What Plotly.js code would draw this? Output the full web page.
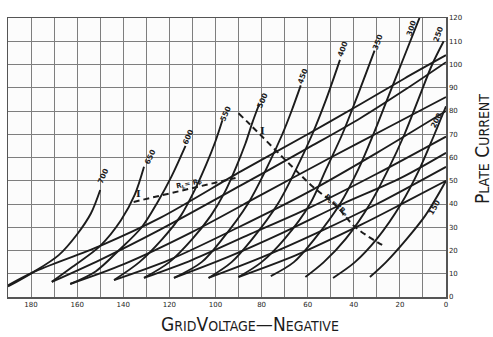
<!DOCTYPE html>
<html>
<head>
<meta charset="utf-8">
<script src="https://cdn.plot.ly/plotly-3.0.1.min.js"></script>
<style>
html,body{margin:0;padding:0;background:#fff;}
#chart{width:493px;height:337px;}
</style>
</head>
<body>
<div id="chart"></div>
<script>
// ---- Static characteristics (grid volts negative, plate current mA), one per plate voltage ----
const plateVolts = ['700','650','600','550','500','450','400','350','300','250','200','150'];
const eg700 = [190, 179, 168, 160, 154, 150];
const ip700 = [4.5, 10.7, 18, 27, 36, 46];
const eg650 = [171, 162, 150, 141, 135, 131];
const ip650 = [6.5, 13, 22, 33, 44, 56];
const eg600 = [163, 152, 142, 132, 125, 119, 113];
const ip600 = [5.6, 11, 20, 30, 41, 52, 65];
const eg550 = [144, 133, 123, 115, 109, 104, 100, 97];
const ip550 = [7.3, 15, 25, 35, 46, 57, 67, 76];
const eg500 = [131, 120, 110, 102, 96, 91, 87, 84, 81];
const ip500 = [8.2, 15, 25, 35, 45, 56, 66, 75, 83];
const eg450 = [118, 106, 97, 86, 78, 71, 67, 63];
const ip450 = [8.2, 15, 25, 40, 55, 70, 80, 91];
const eg400 = [103, 93, 84, 73, 65, 58, 52, 46];
const ip400 = [8.2, 15, 25, 40, 55, 70, 85, 102];
const eg350 = [90, 80, 70, 59, 52, 45, 39, 31];
const ip350 = [8.6, 15, 25, 40, 55, 70, 85, 106];
const eg300 = [76, 66, 57, 46, 38, 31.5, 25.5, 19.5, 11.5];
const ip300 = [9, 15, 25, 40, 55, 70, 85, 100, 120];
const eg250 = [61, 53, 43.5, 33, 25, 18, 12, 6, 1];
const ip250 = [8.6, 15, 25, 40, 55, 70, 85, 100, 110];
const eg200 = [49, 39.5, 30, 19.5, 11.5, 5, 0];
const ip200 = [8.2, 15, 25, 40, 55, 70, 82];
const eg150 = [33, 26, 17, 9, 4, 0];
const ip150 = [8.6, 15, 25, 35, 43, 50];

// ---- Dynamic (load) characteristics ----
const dEg700 = [190, 179, 150, 124, 89, 60, 37, 18, 0];
const dIp700 = [5, 10.7, 22, 34, 54, 70, 83, 94, 104];
const dEg650 = [171, 150, 124, 89, 60, 37, 18, 0];
const dIp650 = [6.5, 16, 29, 48, 64, 77, 89, 101];
const dEg600 = [163, 140, 110, 80, 50, 25, 0];
const dIp600 = [5.6, 14, 28, 44, 60, 73, 86];
const dEg550 = [144, 120, 90, 60, 30, 0];
const dIp550 = [7.3, 16, 30, 45, 62, 80];
const dEg500 = [131, 110, 85, 60, 30, 0];
const dIp500 = [8.2, 16, 27, 38, 53, 69];
const dEg450 = [118, 95, 70, 45, 20, 0];
const dIp450 = [8.2, 17, 28, 40, 51, 62];
const dEg400 = [103, 80, 55, 30, 0];
const dIp400 = [8.2, 17, 28, 40, 56];
const dEg350 = [90, 65, 37, 20, 0];
const dIp350 = [8.6, 18, 31, 39.6, 50];

// ---- Dashed loci ----
const locusLEg = [135.5, 113, 91.3];
const locusLIp = [40.9, 46.2, 51.2];
const locus2Eg = [90, 84.8, 67.5, 57.6, 48, 39.4, 27.7];
const locus2Ip = [79, 74, 56.8, 47.3, 39.6, 30.1, 22.4];

// ---- Curve label positions (grid volts, mA) ----
const labelEg = [148.9, 128.6, 112.1, 95.7, 79.7, 61.9, 44.6, 29.4, 15.2, 3.5, 4.3, 5.2];
const labelIp = [52.0, 60.2, 68.8, 79.1, 84.7, 95.1, 106.7, 109.7, 115.7, 113.1, 76.1, 38.7];
const labelAng = [-66, -64, -66, -66, -66, -68, -70, -70, -72, -70, -62, -60];

// ---- Axis ticks ----
const xTickVals = [190,180,170,160,150,140,130,120,110,100,90,80,70,60,50,40,30,20,10,0];
const xTickText = ['','180','','160','','140','','120','','100','','80','','60','','40','','20','','0'];
const yTickVals = [0,10,20,30,40,50,60,70,80,90,100,110,120];
const yTickText = ['0','10','20','30','40','50','60','70','80','90','100','110','120'];

const ink = '#1c1c1c';
const staticX = [eg700,eg650,eg600,eg550,eg500,eg450,eg400,eg350,eg300,eg250,eg200,eg150];
const staticY = [ip700,ip650,ip600,ip550,ip500,ip450,ip400,ip350,ip300,ip250,ip200,ip150];
const dynX = [dEg700,dEg650,dEg600,dEg550,dEg500,dEg450,dEg400,dEg350];
const dynY = [dIp700,dIp650,dIp600,dIp550,dIp500,dIp450,dIp400,dIp350];

const traces = [];
for (let i = 0; i < staticX.length; i++) {
  traces.push({x: staticX[i], y: staticY[i], mode: 'lines', hoverinfo: 'skip',
    line: {color: ink, width: 1.9, shape: 'spline', smoothing: 0.9}});
}
for (let i = 0; i < dynX.length; i++) {
  traces.push({x: dynX[i], y: dynY[i], mode: 'lines', hoverinfo: 'skip',
    line: {color: ink, width: 1.9, shape: 'spline', smoothing: 0.9}});
}
traces.push({x: locusLEg, y: locusLIp, mode: 'lines', hoverinfo: 'skip',
  line: {color: ink, width: 2, dash: '6px,4px'}});
traces.push({x: locus2Eg, y: locus2Ip, mode: 'lines', hoverinfo: 'skip',
  line: {color: ink, width: 2, dash: '6px,4px', shape: 'spline'}});

const annotations = [];
for (let i = 0; i < plateVolts.length; i++) {
  annotations.push({x: labelEg[i], y: labelIp[i], text: '<b>' + plateVolts[i] + '</b>', showarrow: false,
    textangle: labelAng[i], font: {family: 'DejaVu Sans', size: 7.5, color: ink}});
}
annotations.push({x: 133.3, y: 44.7, text: '<b>I</b>', showarrow: false, font: {family: 'DejaVu Serif', size: 10, color: ink}});
annotations.push({x: 79.7, y: 71.8, text: '<b>I</b>', showarrow: false, font: {family: 'DejaVu Serif', size: 10, color: ink}});
annotations.push({x: 111.7, y: 48.6, text: '<b>R<sub>L</sub>= R<sub>P</sub></b>', showarrow: false, textangle: -12,
  font: {family: 'DejaVu Sans', size: 7, color: ink}});
annotations.push({x: 47.6, y: 39.6, text: '<b>R<sub>o</sub>=2R<sub>P</sub></b>', showarrow: false, textangle: 42,
  font: {family: 'DejaVu Sans', size: 7, color: ink}});
// axis titles
annotations.push({xref: 'paper', yref: 'paper', x: 0.5525, y: -0.097, xanchor: 'center', yanchor: 'middle', showarrow: false,
  text: 'G<span style="font-size:14px">RID</span>V<span style="font-size:14px">OLTAGE</span>—N<span style="font-size:14px">EGATIVE</span>',
  font: {family: 'Liberation Sans Narrow, DejaVu Sans Condensed, sans-serif', size: 19, color: ink}});
annotations.push({xref: 'paper', yref: 'paper', x: 1.082, y: 0.53, xanchor: 'center', yanchor: 'middle', showarrow: false, textangle: -90,
  text: 'P<span style="font-size:14px">LATE</span> C<span style="font-size:14px">URRENT</span>',
  font: {family: 'Liberation Sans Narrow, DejaVu Sans Condensed, sans-serif', size: 19, color: ink}});

const layout = {
  width: 493, height: 337,
  margin: {l: 8, r: 47, t: 18, b: 40, pad: 0},
  paper_bgcolor: '#ffffff', plot_bgcolor: '#fcfcfc',
  showlegend: false,
  xaxis: {range: [190, 0], tickvals: xTickVals, ticktext: xTickText, showgrid: true,
    gridcolor: '#7e7e7e', gridwidth: 1, zeroline: false, showline: true, mirror: true,
    linecolor: '#555', linewidth: 1.5, ticks: '', ticklen: 0,
    tickfont: {family: 'DejaVu Sans', size: 7, color: ink}},
  yaxis: {range: [0, 120], side: 'right', tickvals: yTickVals, ticktext: yTickText, showgrid: true,
    gridcolor: '#7e7e7e', gridwidth: 1, zeroline: false, showline: true, mirror: true,
    linecolor: '#555', linewidth: 1.5, ticks: '', ticklen: 0,
    tickfont: {family: 'DejaVu Sans', size: 7, color: ink}},
  annotations: annotations
};

Plotly.newPlot('chart', traces, layout, {staticPlot: true, displayModeBar: false});
</script>
</body>
</html>
